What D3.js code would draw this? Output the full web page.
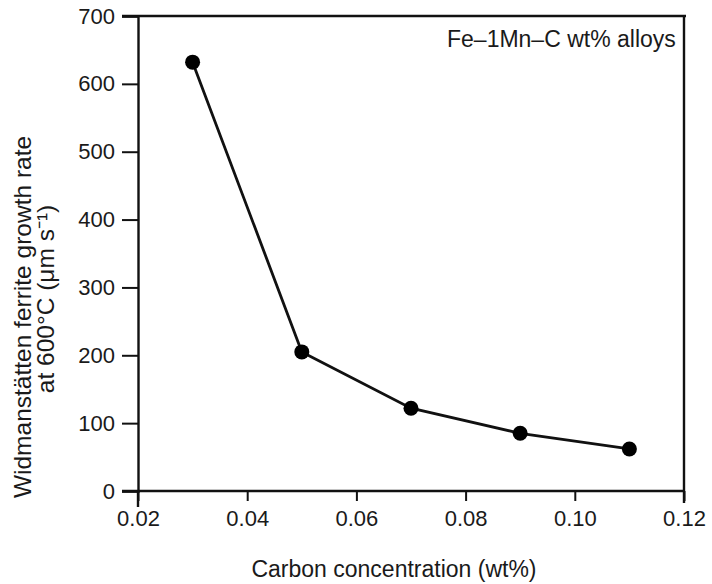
<!DOCTYPE html>
<html>
<head>
<meta charset="utf-8">
<script src="https://cdn.jsdelivr.net/npm/d3@7"></script>
<style>
  html, body { margin: 0; padding: 0; background: #fff; }
  svg { display: block; }
  text { font-family: "Liberation Sans", Arial, Helvetica, sans-serif; fill: #1a1a1a; }
</style>
</head>
<body>
<svg id="chart" width="712" height="584"></svg>
<script>
// ---- data ----
const carbon = [0.03, 0.05, 0.07, 0.09, 0.11];
const growthRate = [632, 205, 122, 85, 62];
const xTicks = [0.02, 0.04, 0.06, 0.08, 0.10, 0.12];
const yTicks = [0, 100, 200, 300, 400, 500, 600, 700];
const legendText = "Fe–1Mn–C wt% alloys";
const xLabel = "Carbon concentration (wt%)";
const yLabelLines = ["Widmanstätten ferrite growth rate", "at 600°C (μm s⁻¹)"];

(function () {
// ---- layout ----
const svg = d3.select("#chart");
const mLeft = 138, mRight = 684, mTop = 16, mBottom = 491;
const ink = "#111";

const x = d3.scaleLinear().domain([0.02, 0.12]).range([mLeft, mRight]);
const y = d3.scaleLinear().domain([0, 700]).range([mBottom, mTop]);

// frame (top & right)
svg.append("line").attr("x1", mLeft - 16).attr("x2", mRight + 2).attr("y1", mTop).attr("y2", mTop)
  .attr("stroke", ink).attr("stroke-width", 2.4);
svg.append("line").attr("x1", mRight).attr("x2", mRight).attr("y1", mTop).attr("y2", mBottom + 12)
  .attr("stroke", ink).attr("stroke-width", 2.4);
// left axis extends below
svg.append("line").attr("x1", mLeft).attr("x2", mLeft).attr("y1", mBottom).attr("y2", mBottom + 16)
  .attr("stroke", ink).attr("stroke-width", 2.4);

// axes
const yAxis = svg.append("g").attr("transform", `translate(${mLeft},0)`)
  .call(d3.axisLeft(y).tickValues(yTicks).tickSize(16).tickPadding(7).tickFormat(d3.format("d")));
const xAxis = svg.append("g").attr("transform", `translate(0,${mBottom})`)
  .call(d3.axisBottom(x).tickValues(xTicks).tickSize(10).tickPadding(9).tickFormat(d3.format(".2f")));

[yAxis, xAxis].forEach(g => {
  g.select(".domain").attr("stroke", ink).attr("stroke-width", 2.4);
  g.selectAll(".tick line").attr("stroke", ink).attr("stroke-width", 2);
  g.selectAll(".tick text").style("font-size", "22px").attr("fill", "#1a1a1a")
    .style("font-family", "'Liberation Sans', Arial, sans-serif");
});
// extend x-axis line left to meet the 0 tick
xAxis.select(".domain").attr("d", `M${mLeft - 16},0H${mRight}`);

// line + points
const pts = carbon.map((c, i) => [c, growthRate[i]]);
svg.append("path").datum(pts)
  .attr("fill", "none").attr("stroke", ink).attr("stroke-width", 2.8)
  .attr("d", d3.line().x(d => x(d[0])).y(d => y(d[1])));
svg.selectAll("circle.pt").data(pts).enter().append("circle")
  .attr("class", "pt")
  .attr("cx", d => x(d[0])).attr("cy", d => y(d[1])).attr("r", 7.5)
  .attr("fill", "#000");

// legend text
svg.append("text").attr("x", 447).attr("y", 47).style("font-size", "23px").text(legendText);

// x label
svg.append("text").attr("x", 394).attr("y", 577).attr("text-anchor", "middle")
  .style("font-size", "23px").text(xLabel);

// y label (two lines)
svg.append("text").attr("transform", "translate(31,317) rotate(-90)").attr("text-anchor", "middle")
  .style("font-size", "24.5px").text(yLabelLines[0]);
svg.append("text").attr("transform", "translate(54,299) rotate(-90)").attr("text-anchor", "middle")
  .style("font-size", "24.5px").text(yLabelLines[1]);
})();
</script>
</body>
</html>
